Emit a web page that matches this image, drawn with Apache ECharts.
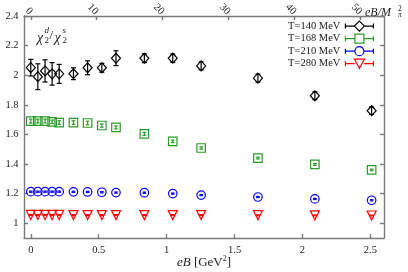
<!DOCTYPE html>
<html><head><meta charset="utf-8">
<script src="https://cdn.jsdelivr.net/npm/echarts@6/dist/echarts.min.js"></script>
<style>html,body{margin:0;padding:0;background:#fff}#c{width:408px;height:272px}</style>
</head><body><div id="c"></div>
<script>
// eB in GeV^2
const eB = [0, 0.052, 0.105, 0.157, 0.209, 0.314, 0.418, 0.523, 0.627, 0.836, 1.045, 1.254, 1.672, 2.091, 2.509];
const T140 = [2.051, 1.99, 2.029, 2.009, 2.009, 2.01, 2.05, 2.05, 2.115, 2.115, 2.115, 2.063, 1.98, 1.861, 1.76];
const err140 = [0.056, 0.087, 0.075, 0.076, 0.064, 0.04, 0.047, 0.03, 0.05, 0.03, 0.028, 0.027, 0.027, 0.026, 0.025];
const T168 = [1.69, 1.69, 1.69, 1.685, 1.68, 1.68, 1.677, 1.66, 1.647, 1.604, 1.553, 1.508, 1.44, 1.397, 1.36];
const err168 = [0.013, 0.013, 0.013, 0.012, 0.012, 0.012, 0.012, 0.011, 0.01, 0.01, 0.008, 0.008, 0.006, 0.006, 0.005];
const T210 = [1.213, 1.213, 1.213, 1.213, 1.213, 1.212, 1.211, 1.209, 1.207, 1.206, 1.2, 1.19, 1.177, 1.164, 1.155];
const err210 = [0.004, 0.004, 0.004, 0.004, 0.004, 0.004, 0.004, 0.004, 0.004, 0.004, 0.004, 0.004, 0.004, 0.004, 0.004];
const T280 = [1.056, 1.056, 1.056, 1.056, 1.056, 1.055, 1.055, 1.055, 1.055, 1.055, 1.055, 1.055, 1.054, 1.053, 1.052];
const err280 = [0.003, 0.003, 0.003, 0.003, 0.003, 0.003, 0.003, 0.003, 0.003, 0.003, 0.003, 0.003, 0.003, 0.003, 0.003];
const seriesNames = ['T=140 MeV', 'T=168 MeV', 'T=210 MeV', 'T=280 MeV'];
const xTicks = [0, 0.5, 1, 1.5, 2, 2.5];
const yTicks = [1, 1.2, 1.4, 1.6, 1.8, 2, 2.2, 2.4];
const topTicks = [0, 10, 20, 30, 40, 50];
const topPerGeV2 = 20.6; // eB/M_pi^2 units per GeV^2

const FF = 'Liberation Serif';
const colors = ['#000000', '#2a9a2a', '#0000ff', '#ff0000'];
const symbols = ['diamond', 'rect', 'circle', 'triangle'];
const symSizes = [[9, 10], [8.5, 8.5], [8.5, 8.5], [9, 9]];
const symRot = [0, 0, 0, 180];
const capW = [2.5, 1.8, 1.8, 2];
const vals = [T140, T168, T210, T280];
const errs = [err140, err168, err210, err280];
const legendIcons = [
  'path://M0 5L9 5M19 5L28 5M0 2.5L0 7.5M28 2.5L28 7.5M14 0L19 5L14 10L9 5Z',
  'path://M0 5L9.5 5M18.5 5L28 5M0 2.5L0 7.5M28 2.5L28 7.5M9.5 0.5L18.5 0.5L18.5 9.5L9.5 9.5Z',
  'path://M0 5L9.5 5M18.5 5L28 5M0 2.5L0 7.5M28 2.5L28 7.5M9.5 5A4.5 4.5 0 1 0 18.5 5A4.5 4.5 0 1 0 9.5 5Z',
  'path://M0 5L9.3 5M18.7 5L28 5M0 2.5L0 7.5M28 2.5L28 7.5M9 0.5L19 0.5L14 9.5Z'
];

const axisColor = '#7a7a7a';
const lineStyle = {color: axisColor, width: 1.4};
const labelStyle = {fontFamily: FF, fontSize: 10.5, color: '#222'};

const series = [];
for (let k = 0; k < 4; k++) {
  const c = colors[k];
  const cw = capW[k];
  series.push({
    type: 'custom', name: seriesNames[k], xAxisIndex: 0, yAxisIndex: 0, z: 2,
    encode: {x: 0, y: 1},
    data: eB.map((x, i) => [x, vals[k][i], errs[k][i]]),
    renderItem: function (params, api) {
      const x = api.value(0), y = api.value(1), e = api.value(2);
      const lo = api.coord([x, y - e]), hi = api.coord([x, y + e]);
      const st = {stroke: c, lineWidth: 1.2};
      return {type: 'group', children: [
        {type: 'line', shape: {x1: lo[0], y1: lo[1], x2: hi[0], y2: hi[1]}, style: st},
        {type: 'line', shape: {x1: lo[0] - cw, y1: lo[1], x2: lo[0] + cw, y2: lo[1]}, style: st},
        {type: 'line', shape: {x1: hi[0] - cw, y1: hi[1], x2: hi[0] + cw, y2: hi[1]}, style: st}
      ]};
    }
  });
  series.push({
    type: 'scatter', name: seriesNames[k], xAxisIndex: 0, yAxisIndex: 0, z: 3,
    symbol: symbols[k], symbolSize: symSizes[k], symbolRotate: symRot[k],
    itemStyle: {color: 'rgba(0,0,0,0)', borderColor: c, borderWidth: 1.2, opacity: 1},
    data: eB.map((x, i) => [x, vals[k][i]])
  });
}

const chart = echarts.init(document.getElementById('c'), null, {renderer: 'canvas'});
chart.setOption({
  animation: false,
  backgroundColor: '#fff',
  grid: {left: 24, right: 24, top: 16, bottom: 34, containLabel: false, outerBoundsMode: 'none'},
  legend: {
    orient: 'vertical', right: 34, top: 20.5, align: 'right', padding: 0,
    itemWidth: 28, itemHeight: 10, itemGap: 1.5,
    textStyle: {fontFamily: FF, fontSize: 10.5, color: '#222'},
    data: seriesNames.map((n, i) => ({
      name: n, icon: legendIcons[i],
      itemStyle: {color: 'rgba(0,0,0,0)', borderColor: colors[i], borderWidth: 1.2}
    }))
  },
  xAxis: [
    {
      type: 'value', position: 'bottom', min: -0.05, max: 2.6,
      axisLine: {onZero: false, lineStyle: lineStyle},
      axisTick: {inside: true, length: 4, customValues: xTicks, lineStyle: lineStyle},
      axisLabel: Object.assign({customValues: xTicks, margin: 7}, labelStyle),
      splitLine: {show: false},
      name: '{i|eB} [GeV{s|2}]', nameLocation: 'middle', nameGap: 17, nameMoveOverlap: false,
      nameTextStyle: {
        fontFamily: FF, fontSize: 13, color: '#222', lineHeight: 16,
        rich: {
          i: {fontFamily: FF, fontStyle: 'italic', fontSize: 13, lineHeight: 16, color: '#222'},
          s: {fontFamily: FF, fontSize: 8, lineHeight: 9, verticalAlign: 'top', color: '#222'}
        }
      }
    },
    {
      type: 'value', position: 'top', min: -0.05 * topPerGeV2, max: 2.6 * topPerGeV2,
      axisLine: {onZero: false, lineStyle: lineStyle},
      axisTick: {inside: true, length: 4, customValues: topTicks, lineStyle: lineStyle},
      axisLabel: Object.assign({customValues: topTicks, margin: 3, rotate: 45}, labelStyle),
      splitLine: {show: false}
    }
  ],
  yAxis: [
    {
      type: 'value', position: 'left', min: 0.9, max: 2.4,
      axisLine: {show: true, onZero: false, lineStyle: lineStyle},
      axisTick: {show: true, inside: true, length: 4, customValues: yTicks, lineStyle: lineStyle},
      axisLabel: Object.assign({customValues: yTicks, margin: 5.5}, labelStyle),
      splitLine: {show: false}
    },
    {
      type: 'value', position: 'right', min: 0.9, max: 2.4,
      axisLine: {show: true, onZero: false, lineStyle: lineStyle},
      axisTick: {show: true, inside: true, length: 4, customValues: yTicks, lineStyle: lineStyle},
      axisLabel: {show: false},
      splitLine: {show: false}
    }
  ],
  graphic: [
    // chi_2^d / chi_2^s label
    {type: 'text', x: 37, y: 38, style: {text: 'χ', fontFamily: FF, fontStyle: 'italic', fontSize: 14, fill: '#222', verticalAlign: 'middle'}},
    {type: 'text', x: 44.5, y: 31, style: {text: 'd', fontFamily: FF, fontStyle: 'italic', fontSize: 9, fill: '#222', verticalAlign: 'middle'}},
    {type: 'text', x: 44.5, y: 41, style: {text: '2', fontFamily: FF, fontSize: 9, fill: '#222', verticalAlign: 'middle'}},
    {type: 'text', x: 49.5, y: 36, style: {text: '/', fontFamily: FF, fontSize: 13, fill: '#222', verticalAlign: 'middle'}},
    {type: 'text', x: 54.5, y: 38, style: {text: 'χ', fontFamily: FF, fontStyle: 'italic', fontSize: 14, fill: '#222', verticalAlign: 'middle'}},
    {type: 'text', x: 62.5, y: 31, style: {text: 's', fontFamily: FF, fontStyle: 'italic', fontSize: 9, fill: '#222', verticalAlign: 'middle'}},
    {type: 'text', x: 62.5, y: 41, style: {text: '2', fontFamily: FF, fontSize: 9, fill: '#222', verticalAlign: 'middle'}},
    // top axis name eB/M_pi^2
    {type: 'text', x: 365, y: 12.5, style: {text: 'eB/M', fontFamily: FF, fontStyle: 'italic', fontSize: 12, fill: '#222', verticalAlign: 'middle'}},
    {type: 'text', x: 398, y: 9, style: {text: '2', fontFamily: FF, fontSize: 7.5, fill: '#222', verticalAlign: 'middle'}},
    {type: 'text', x: 398, y: 15.5, style: {text: 'π', fontFamily: FF, fontStyle: 'italic', fontSize: 7.5, fill: '#222', verticalAlign: 'middle'}}
  ],
  series: series
});
</script>
</body></html>
